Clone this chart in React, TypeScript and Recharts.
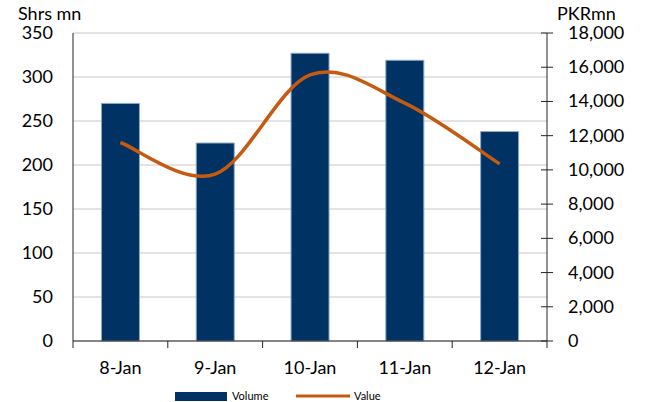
import React from 'react';
import { ComposedChart, Bar, Line, XAxis, YAxis, CartesianGrid, Legend } from 'recharts';

const categories = ['8-Jan', '9-Jan', '10-Jan', '11-Jan', '12-Jan'];
const volume = [270, 225, 327, 319, 238];
const value = [11600, 9750, 15550, 13900, 10350];
const leftTicks = [0, 50, 100, 150, 200, 250, 300, 350];
const rightTicks = [0, 2000, 4000, 6000, 8000, 10000, 12000, 14000, 16000, 18000];

const data = categories.map((c, i) => ({ name: c, volume: volume[i], value: value[i] }));

const NAVY = '#003263';
const ORANGE = '#C55A11';
const FONT = 'Lato, sans-serif';
const BAND = 474 / 5;

// Excel-like smoothed line (Catmull-Rom style bezier)
const smoothCurve = (context: any) => {
  let pts: number[][] = [];
  return {
    areaStart() {},
    areaEnd() {},
    lineStart() {
      pts = [];
    },
    point(x: number, y: number) {
      pts.push([+x, +y]);
    },
    lineEnd() {
      if (!pts.length) return;
      context.moveTo(pts[0][0], pts[0][1]);
      for (let i = 0; i < pts.length - 1; i++) {
        const p0 = pts[i - 1] || pts[i];
        const p1 = pts[i];
        const p2 = pts[i + 1];
        const p3 = pts[i + 2] || pts[i + 1];
        const c1x = p1[0] + (p2[0] - p0[0]) / 6;
        const c1y = p1[1] + (p2[1] - p0[1]) / 6;
        const c2x = p2[0] - (p3[0] - p1[0]) / 6;
        const c2y = p2[1] - (p3[1] - p1[1]) / 6;
        context.bezierCurveTo(c1x, c1y, c2x, c2y, p2[0], p2[1]);
      }
    },
  };
};

const XTick = (props: any) => {
  const { x, payload, index } = props;
  const top = 341;
  return (
    <g>
      <line x1={x - BAND / 2} x2={x - BAND / 2} y1={top} y2={top + 7} stroke="#262626" />
      {index === categories.length - 1 && (
        <line x1={x + BAND / 2} x2={x + BAND / 2} y1={top} y2={top + 7} stroke="#262626" />
      )}
      <text x={x} y={374} textAnchor="middle" fontSize={18} fontFamily={FONT} fill="#000">
        {payload.value}
      </text>
    </g>
  );
};

const RightTick = (props: any) => {
  const { x, y, payload } = props;
  return (
    <g>
      <line x1={x - 6} x2={x + 6} y1={y} y2={y} stroke="#262626" />
      <text x={x + 21} y={y + 6} textAnchor="start" fontSize={18} fontFamily={FONT} fill="#000">
        {Number(payload.value).toLocaleString('en-US')}
      </text>
    </g>
  );
};

const LeftTick = (props: any) => {
  const { x, y, payload } = props;
  return (
    <text x={x} y={y + 6} textAnchor="end" fontSize={18} fontFamily={FONT} fill="#000">
      {payload.value}
    </text>
  );
};

const renderLegend = () => (
  <svg width={645} height={16} style={{ display: 'block' }}>
    <rect x={175} y={6} width={52} height={9} fill={NAVY} />
    <text x={232} y={14} fontSize={11} fontFamily={FONT} fill="#000">Volume</text>
    <line x1={296} x2={350} y1={10} y2={10} stroke={ORANGE} strokeWidth={3} />
    <text x={354} y={14} fontSize={11} fontFamily={FONT} fill="#000">Value</text>
  </svg>
);

export default function App() {
  return (
    <div style={{ position: 'absolute', left: 0, top: 0, width: 645, height: 402, background: '#fff' }}>
      <ComposedChart
        width={645}
        height={402}
        data={data}
        margin={{ top: 33, right: 0, left: 0, bottom: 26 }}
        barCategoryGap="30%"
      >
        <CartesianGrid vertical={false} stroke="#c8c8c8" yAxisId="left" />
        <XAxis
          dataKey="name"
          height={35}
          tick={<XTick />}
          tickLine={false}
          axisLine={{ stroke: '#262626' }}
          interval={0}
        />
        <YAxis
          yAxisId="left"
          orientation="left"
          width={73}
          domain={[0, 350]}
          ticks={leftTicks}
          tick={<LeftTick />}
          tickLine={false}
          tickSize={0}
          tickMargin={20}
          axisLine={{ stroke: '#262626' }}
          label={() => (
            <text x={18} y={20} fontSize={18} fontFamily={FONT} fill="#000">Shrs mn</text>
          )}
        />
        <YAxis
          yAxisId="right"
          orientation="right"
          width={98}
          domain={[0, 18000]}
          ticks={rightTicks}
          tick={<RightTick />}
          tickLine={false}
          tickSize={0}
          tickMargin={0}
          axisLine={{ stroke: '#262626' }}
          label={() => (
            <text x={557} y={20} fontSize={18} fontFamily={FONT} fill="#000">PKRmn</text>
          )}
        />
        <Bar yAxisId="left" dataKey="volume" name="Volume" fill={NAVY} stroke="#8fa9c8" strokeWidth={1} isAnimationActive={false} />
        <Line yAxisId="right" dataKey="value" name="Value" type={smoothCurve as any} stroke={ORANGE} strokeWidth={3.5} dot={false} isAnimationActive={false} />
        <Legend
          content={renderLegend}
          layout="horizontal"
          verticalAlign="middle"
          align="center"
          wrapperStyle={{ top: 386, left: 0, width: 645, height: 16 }}
        />
      </ComposedChart>
    </div>
  );
}
